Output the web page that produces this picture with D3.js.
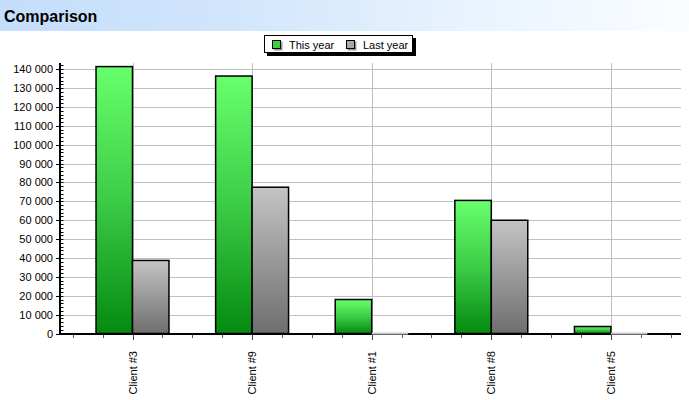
<!DOCTYPE html>
<html><head><meta charset="utf-8">
<script src="https://cdn.jsdelivr.net/npm/d3@7"></script>
<style>
html,body{margin:0;padding:0;background:#fff;}
svg{display:block;font-family:"Liberation Sans",Arial,sans-serif;}
</style></head>
<body>
<svg id="chart" width="689" height="400"></svg>
<script>
const title = "Comparison";
const categories = ["Client #3", "Client #9", "Client #1", "Client #8", "Client #5"];
const seriesNames = ["This year", "Last year"];
const thisYear = [141400, 136400, 18000, 70500, 3700];
const lastYear = [38700, 77500, 0, 60000, 0];
const yTicks = [0, 10000, 20000, 30000, 40000, 50000, 60000, 70000, 80000, 90000, 100000, 110000, 120000, 130000, 140000];

const svg = d3.select("#chart");
const defs = svg.append("defs");

// title bar gradient
const tg = defs.append("linearGradient").attr("id","titleGrad").attr("x1","0").attr("x2","1").attr("y1","0").attr("y2","0");
tg.append("stop").attr("offset","0%").attr("stop-color","#c4ddfa");
tg.append("stop").attr("offset","35%").attr("stop-color","#d2e6fc");
tg.append("stop").attr("offset","70%").attr("stop-color","#eaf4fe");
tg.append("stop").attr("offset","100%").attr("stop-color","#fbfdff");

const greenG = defs.append("linearGradient").attr("id","greenGrad").attr("x1","0").attr("x2","0").attr("y1","0").attr("y2","1");
greenG.append("stop").attr("offset","0%").attr("stop-color","#68ff6c");
greenG.append("stop").attr("offset","50%").attr("stop-color","#3ccc46");
greenG.append("stop").attr("offset","100%").attr("stop-color","#048a10");
const greyG = defs.append("linearGradient").attr("id","greyGrad").attr("x1","0").attr("x2","0").attr("y1","0").attr("y2","1");
greyG.append("stop").attr("offset","0%").attr("stop-color","#c4c4c4");
greyG.append("stop").attr("offset","100%").attr("stop-color","#6e6e6e");

const fills = ["url(#greenGrad)", "url(#greyGrad)"];
const swatchFills = ["#3cd040", "#a8a8a8"];
const zeroColors = ["#66dd66", "#c8c8c8"];

svg.append("rect").attr("x",0).attr("y",0).attr("width",689).attr("height",31).attr("fill","url(#titleGrad)");
svg.append("text").attr("x",4).attr("y",22).attr("font-size",16).attr("font-weight","bold").attr("fill","#000").text(title);

// scales
const plotLeft = 60, plotRight = 681, plotTop = 63, plotBottom = 333.5;
const x = d3.scaleBand().domain(categories).range([72.7, 670.7]).paddingInner(0).paddingOuter(0);
const sub = d3.scaleBand().domain(seriesNames).range([0, x.bandwidth()]).paddingInner(0).paddingOuter(0.64);
const y = d3.scaleLinear().domain([0, 143300]).range([plotBottom, plotTop]);
const fmt = d3.formatLocale({decimal:".", thousands:" ", grouping:[3], currency:["",""]}).format(",d");

// grid
const grid = svg.append("g");
grid.selectAll("line.h").data(yTicks.filter(d=>d>0)).join("line")
  .attr("x1",plotLeft).attr("x2",plotRight)
  .attr("y1",d=>Math.round(y(d))+0.5).attr("y2",d=>Math.round(y(d))+0.5)
  .attr("stroke","#c0c0c0").attr("stroke-width",1);
grid.selectAll("line.v").data(categories).join("line")
  .attr("x1",d=>Math.round(x(d)+x.bandwidth()/2)+0.5).attr("x2",d=>Math.round(x(d)+x.bandwidth()/2)+0.5)
  .attr("y1",plotTop).attr("y2",plotBottom)
  .attr("stroke","#c0c0c0").attr("stroke-width",1);

// x axis line & ticks
const xAxisG = svg.append("g");
xAxisG.append("line").attr("x1",plotLeft).attr("x2",plotRight).attr("y1",plotBottom+0.5).attr("y2",plotBottom+0.5).attr("stroke","#000").attr("stroke-width",2);
const minorX = [];
categories.forEach(c => { for (let k=0;k<4;k++) minorX.push(x(c) + k*x.bandwidth()/4); });
minorX.push(x(categories[categories.length-1]) + x.bandwidth());
xAxisG.selectAll("line.mx").data(minorX).join("line")
  .attr("x1",d=>Math.round(d)+0.5).attr("x2",d=>Math.round(d)+0.5)
  .attr("y1",plotBottom+1).attr("y2",plotBottom+4.5).attr("stroke","#555").attr("stroke-width",1);
xAxisG.selectAll("line.Mx").data(categories).join("line")
  .attr("x1",d=>Math.round(x(d)+x.bandwidth()/2)+0.5).attr("x2",d=>Math.round(x(d)+x.bandwidth()/2)+0.5)
  .attr("y1",plotBottom+1).attr("y2",plotBottom+6.5).attr("stroke","#444").attr("stroke-width",1);
xAxisG.selectAll("text").data(categories).join("text")
  .attr("transform",d=>`translate(${x(d)+x.bandwidth()/2+4},351) rotate(-90)`)
  .attr("text-anchor","end").attr("font-size",11).attr("fill","#000").text(d=>d);

// bars
const series = [thisYear, lastYear];
const barsG = svg.append("g");
categories.forEach((c,i) => {
  seriesNames.forEach((s,j) => {
    const v = series[j][i];
    const bx = x(c) + sub(s);
    const bw = sub.bandwidth();
    if (v > 0) {
      barsG.append("rect").attr("x",bx).attr("y",y(v)).attr("width",bw).attr("height",y(0)-y(v))
        .attr("fill",fills[j]).attr("stroke","#000").attr("stroke-width",1.5);
    } else {
      barsG.append("line").attr("x1",bx).attr("x2",bx+bw).attr("y1",y(v)).attr("y2",y(v))
        .attr("stroke",zeroColors[j]).attr("stroke-width",2);
    }
  });
});

// y axis
const yAxisG = svg.append("g");
const minorY = d3.range(0, 143000, 2000);
yAxisG.selectAll("line.my").data(minorY).join("line")
  .attr("x1",plotLeft).attr("x2",plotLeft+3.5)
  .attr("y1",d=>Math.round(y(d))+0.5).attr("y2",d=>Math.round(y(d))+0.5)
  .attr("stroke","#000").attr("stroke-width",1);
yAxisG.selectAll("line.My").data(yTicks).join("line")
  .attr("x1",plotLeft-4).attr("x2",plotLeft)
  .attr("y1",d=>Math.round(y(d))+0.5).attr("y2",d=>Math.round(y(d))+0.5)
  .attr("stroke","#000").attr("stroke-width",1);
yAxisG.append("line").attr("x1",plotLeft).attr("x2",plotLeft).attr("y1",plotTop).attr("y2",plotBottom+1.5).attr("stroke","#000").attr("stroke-width",2);
yAxisG.selectAll("text").data(yTicks).join("text")
  .attr("x",53).attr("y",d=>y(d)+4).attr("text-anchor","end").attr("font-size",11).attr("fill","#000")
  .text(d=>fmt(d));

// legend
const lg = svg.append("g");
lg.append("rect").attr("x",267).attr("y",38).attr("width",149).attr("height",18).attr("fill","#000");
lg.append("rect").attr("x",264.5).attr("y",35.5).attr("width",148).attr("height",17).attr("fill","#fff").attr("stroke","#000").attr("stroke-width",1);
const legX = [272, 346];
seriesNames.forEach((s,j) => {
  lg.append("rect").attr("x",legX[j]+1.5).attr("y",41.5).attr("width",9).attr("height",9).attr("fill","#999");
  lg.append("rect").attr("x",legX[j]+0.5).attr("y",40.5).attr("width",8).attr("height",8).attr("fill",swatchFills[j]).attr("stroke","#000").attr("stroke-width",1);
  lg.append("text").attr("x",legX[j]+17).attr("y",48.5).attr("font-size",11).attr("fill","#000").text(s);
});
</script>
</body></html>
